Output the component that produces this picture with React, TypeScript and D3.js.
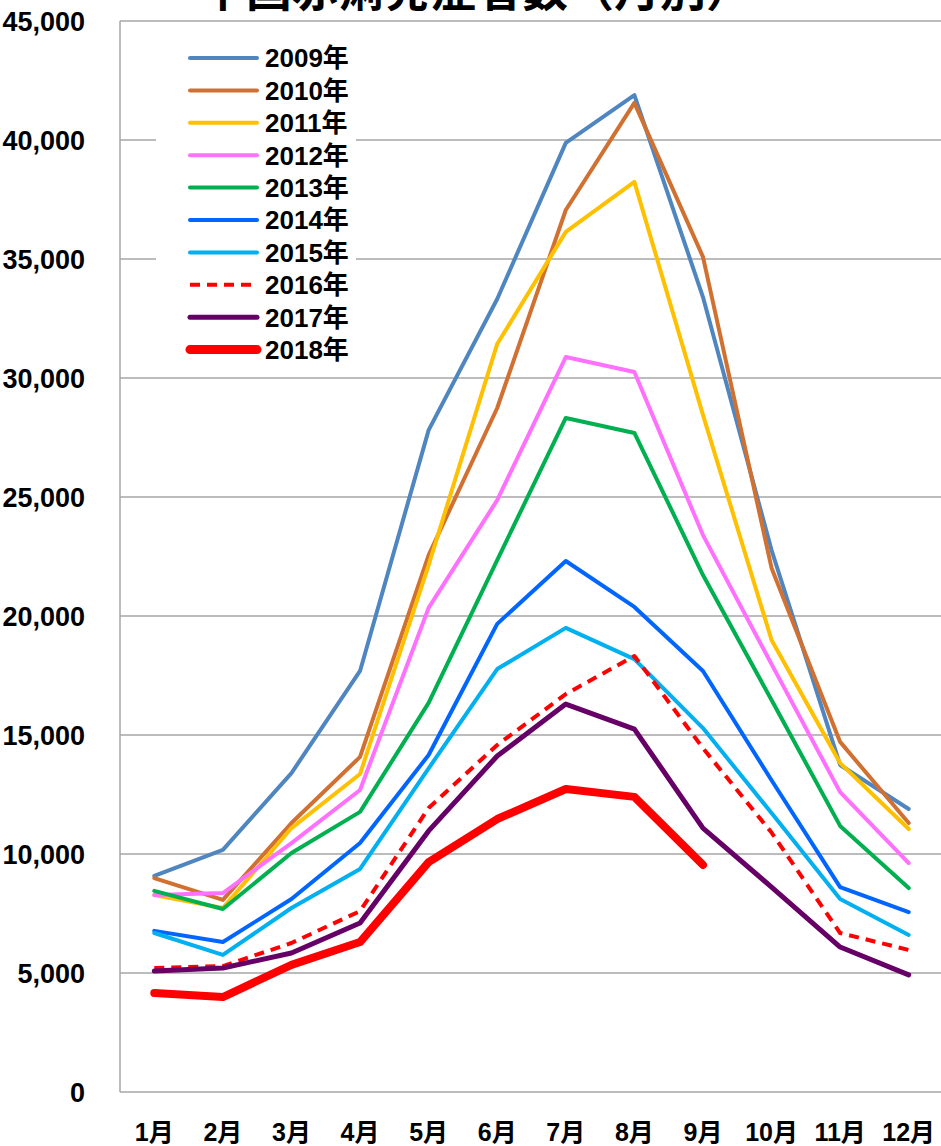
import React from "react";
import * as d3 from "d3";

const months = ["1月", "2月", "3月", "4月", "5月", "6月", "7月", "8月", "9月", "10月", "11月", "12月"];
const yTicks = [0, 5000, 10000, 15000, 20000, 25000, 30000, 35000, 40000, 45000];

const years = ["2009年", "2010年", "2011年", "2012年", "2013年", "2014年", "2015年", "2016年", "2017年", "2018年"];

const v2009 = [9080, 10170, 13400, 17690, 27810, 33320, 39880, 41890, 33400, 22770, 13740, 11890];
const v2010 = [8990, 8070, 11300, 14080, 22560, 28740, 37060, 41560, 35090, 22020, 14710, 11300];
const v2011 = [8280, 7730, 11090, 13360, 22140, 31430, 36140, 38240, 28450, 18990, 13820, 11050];
const v2012 = [8280, 8360, 10460, 12690, 20340, 24870, 30880, 30250, 23400, 17980, 12600, 9620];
const v2013 = [8450, 7690, 10040, 11770, 16350, 22350, 28320, 27690, 21720, 16470, 11180, 8570];
const v2014 = [6770, 6300, 8110, 10460, 14160, 19670, 22310, 20380, 17690, 13100, 8610, 7560];
const v2015 = [6680, 5760, 7730, 9370, 13600, 17770, 19500, 18190, 15290, 11720, 8110, 6600];
const v2016 = [5210, 5290, 6260, 7600, 11930, 14580, 16720, 18320, 14450, 10900, 6680, 5970];
const v2017 = [5080, 5210, 5840, 7100, 10970, 14120, 16300, 15250, 11090, 8610, 6090, 4920];
const v2018 = [4160, 3990, 5340, 6300, 9660, 11470, 12730, 12400, 9540];

const seriesValues = [v2009, v2010, v2011, v2012, v2013, v2014, v2015, v2016, v2017, v2018];
const colors = ["#4F86C0", "#D07132", "#FFC000", "#FF70FF", "#00B050", "#0066FF", "#00B0F0", "#FF0000", "#660066", "#FF0000"];
const widths = [4, 4, 4, 4, 4, 4, 4, 4, 5, 8];
const dashes = ["", "", "", "", "", "", "", "10 7", "", ""];

const W = 941;
const H = 1146;

export default function App() {
  const x = d3.scaleBand<string>().domain(months).range([120, 943]).padding(0);
  const y = d3.scaleLinear().domain([0, 45000]).range([1092, 21]);
  const line = d3
    .line<number>()
    .x((_, i) => (x(months[i]) as number) + x.bandwidth() / 2)
    .y((d) => y(d));
  const fmt = d3.format(",");
  const latin = "'Liberation Sans', Arial, 'Noto Sans CJK JP', sans-serif";
  const narrow = "'Liberation Sans Narrow', 'Liberation Sans', Arial, 'Noto Sans CJK JP', sans-serif";

  return (
    <svg width={W} height={H} style={{ position: "absolute", left: 0, top: 0, background: "#fff" }}>
      <rect x={0} y={0} width={W} height={H} fill="#fff" />
      {yTicks.map((t) => (
        <line key={t} x1={120} x2={943} y1={y(t)} y2={y(t)} stroke="#A6A6A6" strokeWidth={1.5} />
      ))}
      <line x1={120} x2={120} y1={y(45000)} y2={y(0)} stroke="#A6A6A6" strokeWidth={1.5} />
      {yTicks.map((t) => (
        <text
          key={"l" + t}
          x={85}
          y={y(t)}
          dy="0.36em"
          textAnchor="end"
          fontFamily={latin}
          fontWeight="bold"
          fontSize={27}
          fill="#000"
        >
          {fmt(t)}
        </text>
      ))}
      {months.map((m) => (
        <text
          key={m}
          x={(x(m) as number) + x.bandwidth() / 2}
          y={1141}
          textAnchor="middle"
          fontFamily={narrow}
          fontWeight="bold"
          fontSize={25}
          fill="#000"
        >
          {m}
        </text>
      ))}
      <rect x={156} y={34} width={200} height={332} fill="#fff" />
      {seriesValues.map((vals, i) => (
        <path
          key={years[i]}
          d={line(vals) || ""}
          fill="none"
          stroke={colors[i]}
          strokeWidth={widths[i]}
          strokeDasharray={dashes[i] || undefined}
          strokeLinejoin="round"
          strokeLinecap={dashes[i] ? "butt" : "round"}
        />
      ))}
      {years.map((yr, i) => {
        const cy = 58 + i * 32.4;
        return (
          <g key={"lg" + yr}>
            <line
              x1={190}
              x2={257}
              y1={cy}
              y2={cy}
              stroke={colors[i]}
              strokeWidth={i === 9 ? 9 : i === 8 ? 5 : 4}
              strokeDasharray={dashes[i] || undefined}
              strokeLinecap={dashes[i] ? "butt" : "round"}
            />
            <text x={265} y={cy} dy="0.36em" fontFamily={latin} fontWeight="bold" fontSize={26} fill="#000">
              {yr}
            </text>
          </g>
        );
      })}
      <text
        x={476}
        y={6}
        textAnchor="middle"
        fontFamily="'Noto Sans CJK JP', sans-serif"
        fontWeight="bold"
        fontSize={46}
        fill="#000"
      >
        中国赤痢発症者数（月別）
      </text>
    </svg>
  );
}
